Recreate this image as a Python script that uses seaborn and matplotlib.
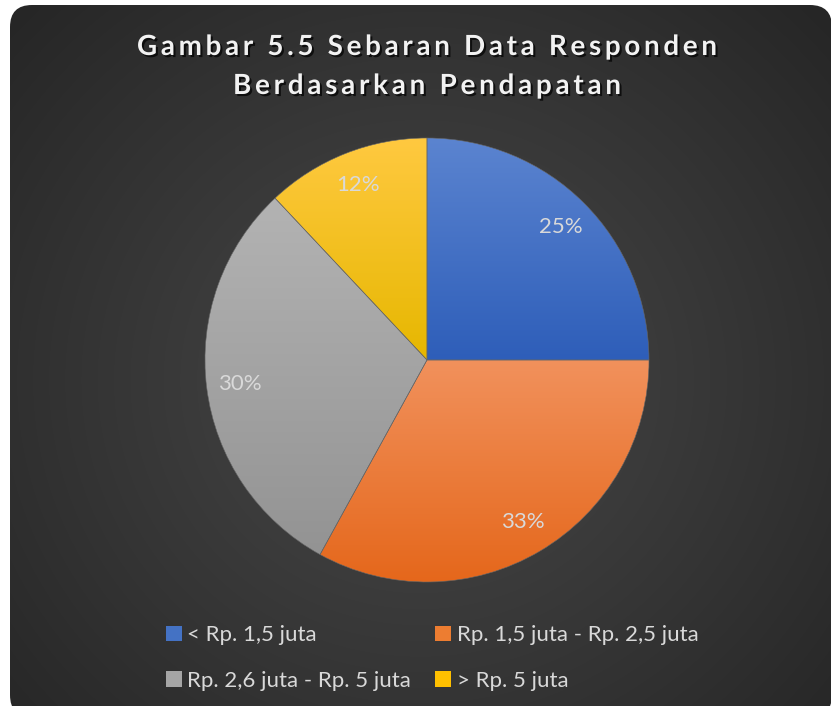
import numpy as np
import seaborn as sns
import matplotlib
matplotlib.use('Agg')
import matplotlib.pyplot as plt
import matplotlib.patheffects as pe
from matplotlib.patches import FancyBboxPatch
from matplotlib.colors import to_rgb
from matplotlib.font_manager import FontProperties, findfont, get_font

sns.set_style('dark')
plt.rcParams['font.family'] = ['Lato', 'DejaVu Sans']

# data
labels = ['< Rp. 1,5 juta', 'Rp. 1,5 juta - Rp. 2,5 juta',
          'Rp. 2,6 juta - Rp. 5 juta', '> Rp. 5 juta']
values = [25, 33, 30, 12]
title_lines = ['Gambar 5.5 Sebaran Data Responden', 'Berdasarkan Pendapatan']

# gradient colours per slice (top -> bottom)
top_colors = ['#5b84d0', '#f1915c', '#b3b3b3', '#ffc940']
bot_colors = ['#2e5eb9', '#e5671b', '#939393', '#e6b700']
mid_colors = sns.blend_palette(['#4472c4', '#ed7d31', '#a5a5a5', '#ffc000'], 4)

W, H = 831, 706
fig = plt.figure(figsize=(W / 100, H / 100), dpi=100)
fig.patch.set_facecolor('white')

# background: rounded dark box with radial gradient
bg = fig.add_axes([0, 0, 1, 1])
bg.set_xlim(0, W)
bg.set_ylim(H, 0)
bg.axis('off')
box = FancyBboxPatch((10, 5), 822, 712, boxstyle='round,pad=0,rounding_size=22',
                     facecolor='none', edgecolor='none')
bg.add_patch(box)
yy, xx = np.mgrid[0:H, 0:W]
d = np.sqrt((xx - 420) ** 2 + ((yy - 380) * 1.05) ** 2)
t = np.clip(d / 560, 0, 1) ** 1.1
c_in, c_out = np.array(to_rgb('#474747')), np.array(to_rgb('#262626'))
img = c_in[None, None, :] * (1 - t[..., None]) + c_out[None, None, :] * t[..., None]
im = bg.imshow(img, extent=(0, W, H, 0), zorder=0)
im.set_clip_path(box)

# pie
cx, cy, r = 427, 360, 222
ax = fig.add_axes([(cx - r) / W, (H - cy - r) / H, 2 * r / W, 2 * r / H])
ax.set_facecolor('none')
wedges, texts, autotexts = ax.pie(
    values, colors=mid_colors, startangle=90, counterclock=False,
    autopct='%1.0f%%', pctdistance=0.85,
    wedgeprops=dict(edgecolor='#666666', linewidth=0.4),
    textprops=dict(color='#d9d9d9', fontsize=16))

for w, c0, c1 in zip(wedges, top_colors, bot_colors):
    verts = w.get_path().vertices
    x0, x1 = verts[:, 0].min(), verts[:, 0].max()
    y0, y1 = verts[:, 1].min(), verts[:, 1].max()
    s = np.linspace(0, 1, 200)[:, None]
    g = np.array(to_rgb(c0))[None, :] * (1 - s) + np.array(to_rgb(c1))[None, :] * s
    gi = ax.imshow(g[:, None, :], extent=(x0, x1, y0, y1), aspect='auto',
                   origin='upper', zorder=1)
    gi.set_clip_path(w)
    w.set_zorder(2)
    w.set_facecolor('none')
for t_ in autotexts:
    t_.set_zorder(3)
ax.set_xlim(-1, 1)
ax.set_ylim(-1, 1)
ax.set_aspect('equal')
ax.axis('off')

# legend
handles = [plt.Rectangle((0, 0), 1, 1, facecolor=c, linewidth=0) for c in mid_colors]
order = [0, 2, 1, 3]
leg = fig.legend([handles[i] for i in order], [labels[i] for i in order],
                 ncol=2, loc='center left', bbox_to_anchor=(146 / W, 1 - 658 / H),
                 frameon=False, fontsize=16, labelcolor='#d9d9d9',
                 handlelength=0.7, handleheight=0.7, handletextpad=0.25,
                 columnspacing=1.1, labelspacing=1.15)

# title with letter spacing
fp = FontProperties(family='Lato', weight='bold', size=20)
font = get_font(findfont(fp))
font.set_size(20, 100)
shadow = [pe.SimplePatchShadow(offset=(1.5, -1.5), shadow_rgbFace='black', alpha=0.7),
          pe.Normal()]
for line, yc, target in zip(title_lines, [47, 86], [580, 388]):
    adv = []
    for ch in line:
        glyph = font.load_char(ord(ch))
        adv.append(glyph.linearHoriAdvance / 65536)
    spacing = (target - sum(adv)) / (len(line) - 1)
    x = 427 - target / 2
    for ch, a in zip(line, adv):
        fig.text(x / W, 1 - yc / H, ch, ha='left', va='center', fontproperties=fp,
                 color='#f2f2f2', path_effects=shadow)
        x += a + spacing

fig.savefig('out.png', dpi=100, facecolor='white')
